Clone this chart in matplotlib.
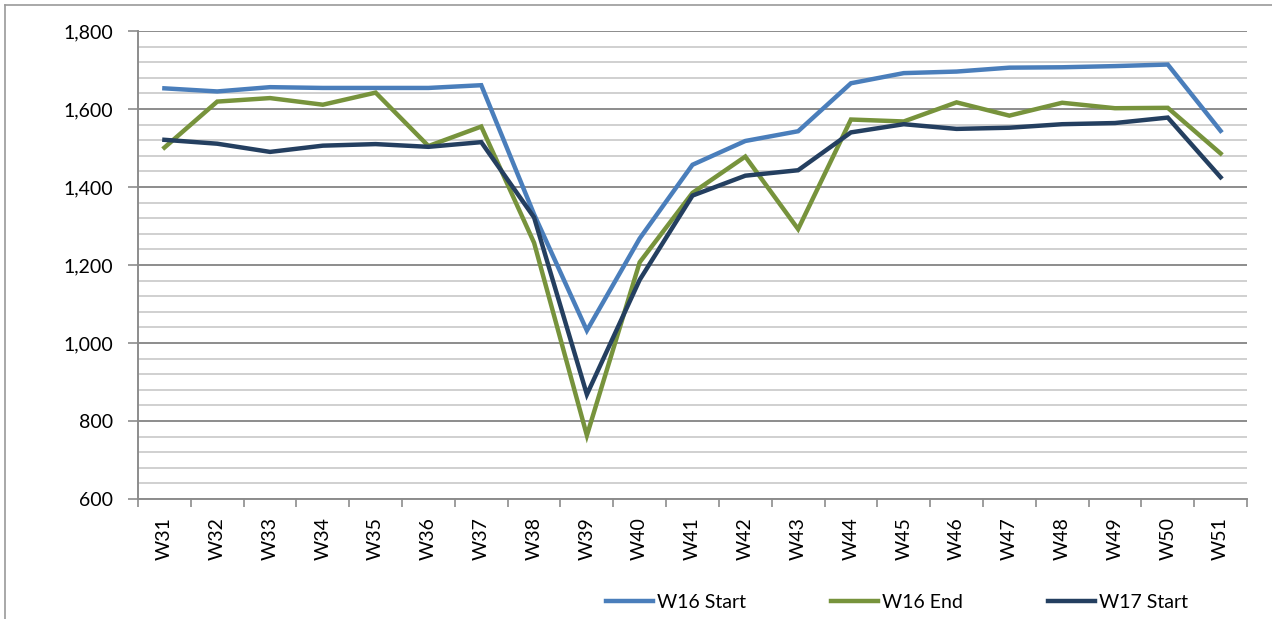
import numpy as np
import matplotlib.pyplot as plt
from matplotlib.ticker import MultipleLocator, FuncFormatter
from matplotlib.lines import Line2D

plt.rcParams['font.family'] = ['Lato', 'DejaVu Sans']

weeks = ['W%d' % w for w in range(31, 52)]
w16_start = [1653, 1645, 1656, 1654, 1654, 1654, 1661, 1330, 1032, 1268, 1457,
             1518, 1543, 1666, 1692, 1696, 1706, 1707, 1710, 1714, 1544]
w16_end = [1501, 1619, 1628, 1611, 1642, 1505, 1555, 1257, 763, 1207, 1385,
           1478, 1292, 1573, 1568, 1617, 1583, 1616, 1602, 1603, 1486]
w17_start = [1521, 1511, 1490, 1506, 1510, 1503, 1515, 1322, 868, 1162, 1378,
             1429, 1443, 1540, 1561, 1549, 1552, 1561, 1564, 1578, 1425]

series = [('W16 Start', w16_start, '#4a7ebb'),
          ('W16 End', w16_end, '#77933c'),
          ('W17 Start', w17_start, '#243f60')]

fig = plt.figure(figsize=(12.72, 6.19), dpi=100)
ax = fig.add_axes([138 / 1272, 1 - 499 / 619, 1109 / 1272, 468 / 619])

x = np.arange(len(weeks))
for name, vals, col in series:
    ax.plot(x, vals, color=col, lw=3.2, label=name, solid_joinstyle='miter', zorder=3)

# axes limits and gridlines
ax.set_xlim(-0.5, len(weeks) - 0.5)
ax.set_ylim(600, 1800)
ax.yaxis.set_major_locator(MultipleLocator(200))
ax.yaxis.set_minor_locator(MultipleLocator(40))
ax.yaxis.set_major_formatter(FuncFormatter(lambda v, p: '{:,.0f}'.format(v)))
ax.grid(which='major', axis='y', color='#8c8c8c', lw=1.4)
ax.grid(which='minor', axis='y', color='#c8c8c8', lw=1.2)
ax.set_axisbelow(True)

ax.set_xticks(x)
ax.set_xticklabels(weeks, rotation=90)
ax.set_xticks(np.arange(len(weeks) + 1) - 0.5, minor=True)
ax.tick_params(axis='x', which='major', length=0, pad=13, labelsize=14)
ax.tick_params(axis='x', which='minor', length=6, width=1.2, color='#8c8c8c')
ax.tick_params(axis='y', which='major', length=7, width=1.2, color='#8c8c8c', labelsize=14, pad=11)
ax.tick_params(axis='y', which='minor', length=0)

for s in ['top', 'right']:
    ax.spines[s].set_visible(False)
for s in ['left', 'bottom']:
    ax.spines[s].set_color('#8c8c8c')
    ax.spines[s].set_linewidth(1.4)

# legend below the plot
fig.legend(loc='center', bbox_to_anchor=(897 / 1272, 1 - 602 / 619), ncol=3,
           frameon=False, fontsize=14, handlelength=2.4, columnspacing=4.4,
           handletextpad=0.2)

# outer chart frame
fig.add_artist(Line2D([4.5 / 1272, 4.5 / 1272], [0, 1 - 5 / 619], color='#9a9a9a', lw=1.2))
fig.add_artist(Line2D([4.5 / 1272, 1], [1 - 5 / 619, 1 - 5 / 619], color='#9a9a9a', lw=1.2))

fig.savefig('out.png', dpi=100)
